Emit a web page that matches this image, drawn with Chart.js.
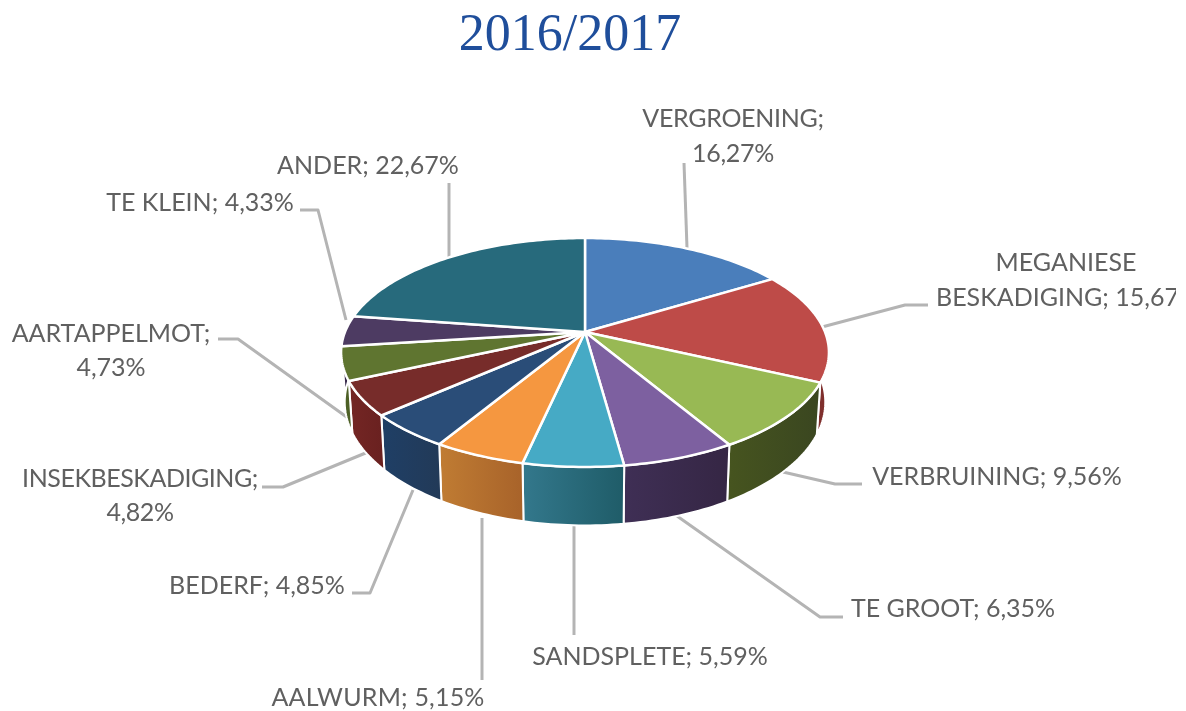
<!DOCTYPE html>
<html><head><meta charset="utf-8">
<style>html,body{margin:0;padding:0;background:#fff}canvas{display:block}</style>
<script src="https://cdn.jsdelivr.net/npm/chart.js@4"></script>
</head><body><canvas id="c" width="1186" height="711"></canvas>
<script>
const titleText = '2016/2017';
const categories = ['VERGROENING','MEGANIESE BESKADIGING','VERBRUINING','TE GROOT','SANDSPLETE','AALWURM','BEDERF','INSEKBESKADIGING','AARTAPPELMOT','TE KLEIN','ANDER'];
const values = [16.27,15.67,9.56,6.35,5.59,5.15,4.85,4.82,4.73,4.33,22.67];
const topColors = ['#4a7ebb','#be4b48','#98b954','#7d60a0','#46aac5','#f59740','#2a4d78','#772c2a','#5f7530','#4d3b62','#276a7c'];
const wallLeft  = ['#2f5580','#7f2f2d','#46541f','#3f2f55','#33788c','#c07c33','#1f3f66','#742624','#4d6026','#35284a','#1c4c5a'];
const wallRight = ['#2f5580','#7f2f2d','#3a4620','#352644','#1f5c68','#a8632a','#223a58','#6a2120','#4d6026','#35284a','#1c4c5a'];

// label placement: centre of each line, one entry per slice
const labelLayout = [
  {lines:['VERGROENING;','16,27%'],pts:[[733,119],[733,154]],sp:-0.3},
  {lines:['MEGANIESE','BESKADIGING; 15,67%'],pts:[[1066,263],[1066,298]],left:[false,936]},
  {lines:['VERBRUINING; 9,56%'],pts:[[997,477]]},
  {lines:['TE GROOT; 6,35%'],pts:[[953,609]]},
  {lines:['SANDSPLETE; 5,59%'],pts:[[650,657]]},
  {lines:['AALWURM; 5,15%'],pts:[[378,698]],sp:0.2},
  {lines:['BEDERF; 4,85%'],pts:[[257,586]]},
  {lines:['INSEKBESKADIGING;','4,82%'],pts:[[140,479],[140,513]],sp:-0.45},
  {lines:['AARTAPPELMOT;','4,73%'],pts:[[111,334],[111,368]]},
  {lines:['TE KLEIN; 4,33%'],pts:[[200,203]]},
  {lines:['ANDER; 22,67%'],pts:[[368,166]]}
];
const leaderLines = [
  [[684,163],[687,248]],
  [[928,305],[905,305],[822,327]],
  [[862,484],[835,484],[783,472]],
  [[843,617],[820,617],[677,516]],
  [[574,635],[574,523]],
  [[482,680],[482,518]],
  [[352,593],[370,593],[413,490]],
  [[262,487],[283,487],[368,452]],
  [[218,339],[238,339],[348,418]],
  [[300,210],[318,210],[346,320]],
  [[449,183],[449,258]]
];
// perspective of the tilted disc
const P = {cx:585, cy:332, a:240, b:110.8, k:0.179, depth:48, shrink:0.985};
function project(t){
  const u=Math.cos(t), v=Math.sin(t), w=1-P.k*v;
  return {x:P.cx+P.a*u/w, y:P.cy+P.b*v/w, d:P.depth/w};
}
function samples(s,e){
  const n=Math.max(2,Math.ceil((e-s)/0.02)), out=[];
  for(let i=0;i<=n;i++) out.push(project(s+(e-s)*i/n));
  return out;
}
const pie3d = {
  id:'pie3d',
  beforeDatasetDraw(chart,args){
    const ctx=chart.ctx, arcs=chart.getDatasetMeta(args.index).data;
    ctx.save();
    ctx.strokeStyle='#b4b4b4'; ctx.lineWidth=3; ctx.lineJoin='round';
    leaderLines.forEach(l=>{ctx.beginPath();l.forEach((p,i)=>i?ctx.lineTo(p[0],p[1]):ctx.moveTo(p[0],p[1]));ctx.stroke();});
    arcs.forEach((arc,i)=>{
      let s=arc.startAngle,e=arc.endAngle;
      s=Math.max(s,0); e=Math.min(e,Math.PI);
      if(e<=s) return;
      const pts=samples(s,e);
      const xs=pts.map(p=>p.x);
      const g=ctx.createLinearGradient(Math.min(...xs),0,Math.max(...xs),0);
      const flip = pts[0].x>pts[pts.length-1].x;
      g.addColorStop(0,flip?wallLeft[i]:wallRight[i]);
      g.addColorStop(1,flip?wallRight[i]:wallLeft[i]);
      ctx.beginPath();
      pts.forEach((p,j)=>j?ctx.lineTo(p.x,p.y):ctx.moveTo(p.x,p.y));
      for(let j=pts.length-1;j>=0;j--) ctx.lineTo(P.cx+(pts[j].x-P.cx)*P.shrink,pts[j].y+pts[j].d);
      ctx.closePath();
      ctx.fillStyle=g; ctx.fill();
      ctx.strokeStyle='#ffffff'; ctx.lineWidth=2; ctx.stroke();
    });
    arcs.forEach((arc,i)=>{
      const pts=samples(arc.startAngle,arc.endAngle);
      ctx.beginPath(); ctx.moveTo(P.cx,P.cy);
      pts.forEach(p=>ctx.lineTo(p.x,p.y));
      ctx.closePath();
      ctx.fillStyle=topColors[i]; ctx.fill();
      ctx.strokeStyle='#ffffff'; ctx.lineWidth=2.5; ctx.stroke();
    });
    ctx.beginPath(); ctx.rect(0,0,1176,711); ctx.clip();
    ctx.font='25px Lato'; ctx.fillStyle='#606060'; ctx.textBaseline='middle';
    labelLayout.forEach(l=>{
      ctx.letterSpacing=(l.sp||0)+'px';
      l.lines.forEach((t,j)=>{
        const lx=l.left&&l.left[j];
        ctx.textAlign=lx?'left':'center';
        ctx.fillText(t,lx||l.pts[j][0],l.pts[j][1]);
      });
    });
    ctx.restore();
    return false;
  }
};
new Chart(document.getElementById('c'),{
  type:'pie',
  data:{labels:categories,datasets:[{data:values,backgroundColor:topColors,borderColor:'#fff',borderWidth:2}]},
  options:{
    responsive:false,animation:false,
    layout:{padding:{right:46,top:5,left:0,bottom:0}},
    plugins:{
      legend:{display:false},tooltip:{enabled:false},
      title:{display:true,text:titleText,color:'#1f4e9b',font:{family:'"Liberation Serif"',size:52,weight:'normal'},padding:{top:0,bottom:10}}
    }
  },
  plugins:[pie3d]
});
</script></body></html>
